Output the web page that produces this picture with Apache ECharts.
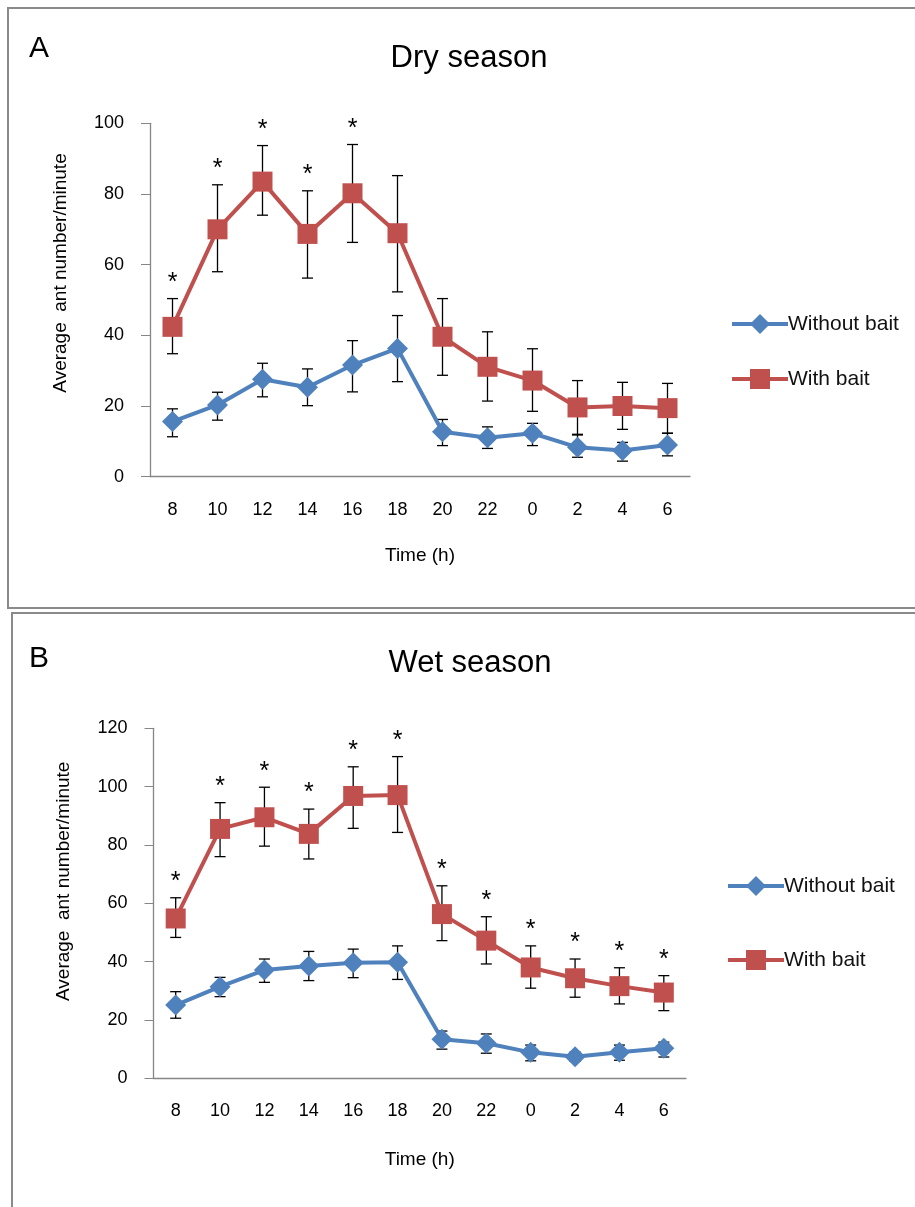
<!DOCTYPE html>
<html><head><meta charset="utf-8">
<script src="https://cdn.jsdelivr.net/npm/echarts@6/dist/echarts.min.js"></script>
<style>html,body{margin:0;padding:0;background:#fff}#c{width:915px;height:1207px}</style>
</head><body><div id="c"></div>
<script>
// ---- data ----
const categories = ['8','10','12','14','16','18','20','22','0','2','4','6'];
const seriesNames = ['Without bait','With bait'];

const dryWithout   = [15.6, 20.3, 27.6, 25.3, 31.6, 36.3, 12.7, 11.0, 12.3, 8.3, 7.4, 9.0];
const dryWithoutHi = [19.2, 23.9, 32.1, 30.5, 38.5, 45.6, 16.2, 14.1, 15.1, 11.8, 9.7, 12.3];
const dryWithoutLo = [11.3, 16.0, 22.6, 20.1, 24.0, 26.9, 8.8, 8.0, 8.8, 5.5, 4.4, 5.9];
const dryWith      = [42.4, 70.0, 83.5, 68.7, 80.2, 68.9, 39.6, 31.1, 27.2, 19.6, 20.0, 19.4];
const dryWithHi    = [50.4, 82.6, 93.7, 80.9, 94.0, 85.2, 50.4, 41.0, 36.2, 27.2, 26.7, 26.4];
const dryWithLo    = [34.8, 58.0, 74.0, 56.2, 66.3, 52.3, 28.7, 21.4, 18.5, 12.0, 13.4, 12.3];
const drySignif    = [1, 1, 1, 1, 1, 0, 0, 0, 0, 0, 0, 0];

const wetWithout   = [25.1, 31.4, 37.1, 38.5, 39.6, 39.8, 13.4, 12.0, 8.9, 7.4, 8.9, 10.3];
const wetWithoutHi = [29.7, 34.6, 40.9, 43.5, 44.3, 45.4, 16.2, 15.2, 11.4, 9.0, 11.4, 12.4];
const wetWithoutLo = [20.6, 28.0, 32.9, 33.5, 34.5, 33.9, 10.0, 8.6, 6.0, 5.8, 6.2, 7.3];
const wetWith      = [54.8, 85.5, 89.5, 83.8, 96.8, 97.1, 56.3, 47.2, 38.0, 34.3, 31.6, 29.4];
const wetWithHi    = [61.9, 94.5, 99.8, 92.3, 106.8, 110.3, 66.0, 55.4, 45.4, 40.9, 37.9, 35.2];
const wetWithLo    = [48.3, 76.0, 79.6, 75.2, 85.7, 84.3, 47.2, 39.2, 30.9, 27.8, 25.5, 23.2];
const wetSignif    = [1, 1, 1, 1, 1, 1, 1, 1, 1, 1, 1, 1];

const dryYTicks = {min: 0, max: 100, interval: 20};
const wetYTicks = {min: 0, max: 120, interval: 20};

// ---- styling ----
const FONT = '"Liberation Sans", Arial, sans-serif';
const BLUE = '#4F81BD', RED = '#C0504D', AX = '#868686';

function errData(hi, lo, sig) { return hi.map((h, i) => [i, h, lo[i], sig ? sig[i] : 0]); }

function renderErr(params, api) {
  const i = api.value(0);
  const top = api.coord([i, api.value(1)]);
  const bot = api.coord([i, api.value(2)]);
  const cw = 5.5;
  const st = {stroke: '#000', lineWidth: 1.3};
  const ch = [
    {type: 'line', shape: {x1: top[0], y1: top[1], x2: bot[0], y2: bot[1]}, style: st},
    {type: 'line', shape: {x1: top[0] - cw, y1: top[1], x2: top[0] + cw, y2: top[1]}, style: st},
    {type: 'line', shape: {x1: bot[0] - cw, y1: bot[1], x2: bot[0] + cw, y2: bot[1]}, style: st}
  ];
  if (api.value(3)) {
    ch.push({type: 'text', style: {text: '*', x: top[0], y: top[1] - 3, align: 'center',
      verticalAlign: 'bottom', fill: '#000', font: '25px ' + FONT}});
  }
  return {type: 'group', children: ch};
}

function xAxis(gi, gap) {
  return {
    type: 'category', gridIndex: gi, data: categories, boundaryGap: true,
    axisLine: {lineStyle: {color: AX, width: 1.3}}, axisTick: {show: false},
    axisLabel: {color: '#000', fontSize: 18, fontFamily: FONT, margin: 24},
    name: 'Time (h)', nameLocation: 'middle', nameGap: gap,
    nameTextStyle: {color: '#000', fontSize: 19, fontFamily: FONT}
  };
}
function yAxis(gi, t, shift) {
  return {
    type: 'value', gridIndex: gi, min: t.min, max: t.max, interval: t.interval,
    splitLine: {show: false},
    axisLine: {show: true, lineStyle: {color: AX, width: 1.3}},
    axisTick: {show: true, length: 9, lineStyle: {color: AX}},
    axisLabel: {color: '#000', fontSize: 18, fontFamily: FONT, margin: 26},
    name: 'Average  ant number/minute', nameLocation: 'middle', nameGap: 80,
    nameTextStyle: {color: '#000', fontSize: 19, fontFamily: FONT, padding: [0, 0, 0, shift]}
  };
}
function lineSeries(name, gi, data, color, symbol, size) {
  return {
    type: 'line', name: name, xAxisIndex: gi, yAxisIndex: gi, data: data,
    symbol: symbol, symbolSize: size, showAllSymbol: true,
    lineStyle: {color: color, width: 4}, itemStyle: {color: color},
    z: 3, animation: false
  };
}
function errSeries(gi, hi, lo, sig) {
  return {
    type: 'custom', xAxisIndex: gi, yAxisIndex: gi, data: errData(hi, lo, sig),
    encode: {x: 0, y: [1, 2]}, renderItem: renderErr, z: 2, silent: true, animation: false
  };
}
function legend(left, top, gap) {
  return {
    data: seriesNames, orient: 'vertical', left: left, top: top, itemGap: gap, padding: 0,
    itemWidth: 56, itemHeight: 25, selectedMode: false,
    lineStyle: {width: 4},
    textStyle: {color: '#111', fontSize: 21, fontFamily: FONT, padding: [0, 0, 0, -5]}
  };
}
function txt(text, x, y, size, align) {
  return {type: 'text', x: x, y: y, style: {text: text, fill: '#000', font: size + 'px ' + FONT,
    align: align, verticalAlign: 'middle'}};
}

const option = {
  backgroundColor: '#fff',
  animation: false,
  grid: [
    {left: 150, right: 225, top: 123.3, bottom: 730.3, outerBoundsMode: 'none'},
    {left: 153.5, right: 229, top: 728.3, bottom: 128.7, outerBoundsMode: 'none'}
  ],
  xAxis: [xAxis(0, 70), xAxis(1, 72)],
  yAxis: [yAxis(0, dryYTicks, 54), yAxis(1, wetYTicks, 44)],
  legend: [legend(730, 313.5, 34), legend(726, 875.5, 53)],
  series: [
    errSeries(0, dryWithoutHi, dryWithoutLo, null),
    errSeries(0, dryWithHi, dryWithLo, drySignif),
    lineSeries(seriesNames[0], 0, dryWithout, BLUE, 'diamond', 21),
    lineSeries(seriesNames[1], 0, dryWith, RED, 'rect', 20),
    errSeries(1, wetWithoutHi, wetWithoutLo, null),
    errSeries(1, wetWithHi, wetWithLo, wetSignif),
    lineSeries(seriesNames[0], 1, wetWithout, BLUE, 'diamond', 21),
    lineSeries(seriesNames[1], 1, wetWith, RED, 'rect', 20)
  ],
  graphic: [
    {type: 'rect', shape: {x: 8, y: 8, width: 940, height: 600}, style: {fill: 'none', stroke: '#8a8a8a', lineWidth: 2}, silent: true},
    {type: 'rect', shape: {x: 12, y: 613, width: 940, height: 640}, style: {fill: 'none', stroke: '#8a8a8a', lineWidth: 2}, silent: true},
    txt('A', 29, 49, 30, 'left'),
    txt('Dry season', 469, 58, 31, 'center'),
    txt('B', 29, 659, 30, 'left'),
    txt('Wet season', 470, 663, 31, 'center')
  ]
};
const chart = echarts.init(document.getElementById('c'));
chart.setOption(option);
</script>
</body></html>
